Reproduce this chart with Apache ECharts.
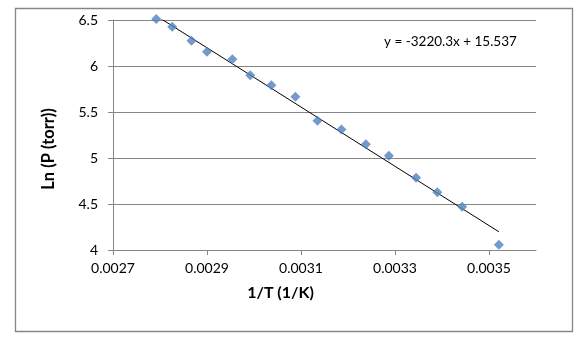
<!DOCTYPE html>
<html>
<head>
<meta charset="utf-8">
<script src="https://cdn.jsdelivr.net/npm/echarts@6/dist/echarts.min.js"></script>
<style>
html,body{margin:0;padding:0;background:#fff;}
#chart{width:583px;height:337px;}
</style>
</head>
<body>
<div id="chart"></div>
<script>
// Data
const invT = [0.002792, 0.002826, 0.002867, 0.0029, 0.002954, 0.002992, 0.003037, 0.003088, 0.003135, 0.003186, 0.003238, 0.003287, 0.003345, 0.00339, 0.003443, 0.003521];
const lnP = [6.51, 6.427, 6.275, 6.155, 6.073, 5.899, 5.79, 5.666, 5.405, 5.31, 5.149, 5.025, 4.786, 4.627, 4.471, 4.058];
const trendSlope = -3220.3;
const trendIntercept = 15.537;
const trendLabel = 'y = -3220.3x + 15.537';
const xTicks = [0.0027, 0.0029, 0.0031, 0.0033, 0.0035];
const yTicks = [4, 4.5, 5, 5.5, 6, 6.5];
const xTitle = '1/T (1/K)';
const yTitle = 'Ln (P (torr))';

const points = invT.map((x, i) => [x, lnP[i]]);
const xMin = Math.min(...invT), xMax = Math.max(...invT);
const trend = [[xMin, trendSlope * xMin + trendIntercept], [xMax, trendSlope * xMax + trendIntercept]];

const font = 'Lato, "Open Sans", sans-serif';
const chart = echarts.init(document.getElementById('chart'), null, {renderer: 'canvas'});
chart.setOption({
  animation: false,
  backgroundColor: '#ffffff',
  grid: {left: 113, right: 47, top: 20, bottom: 87, containLabel: false},
  xAxis: {
    type: 'value',
    min: 0.0027, max: 0.0036,
    name: xTitle,
    nameLocation: 'middle',
    nameGap: 35,
    nameTextStyle: {fontFamily: font, fontSize: 16, fontWeight: 'bold', color: '#000', padding: [0, 88, 0, 0]},
    axisLine: {show: true, lineStyle: {color: '#868686', width: 1}},
    axisTick: {show: true, length: 5, customValues: xTicks, lineStyle: {color: '#868686'}},
    axisLabel: {customValues: xTicks, formatter: v => v.toFixed(4), fontFamily: font, fontSize: 14, color: '#000', margin: 11},
    splitLine: {show: false}
  },
  yAxis: {
    type: 'value',
    min: 4, max: 6.5, interval: 0.5,
    name: yTitle,
    nameLocation: 'middle',
    nameGap: 56,
    nameRotate: 90,
    nameTextStyle: {fontFamily: font, fontSize: 16.5, fontWeight: 'bold', color: '#000', padding: [0, 28, 0, 0]},
    axisLine: {show: true, lineStyle: {color: '#868686', width: 1}},
    axisTick: {show: true, length: 5, lineStyle: {color: '#868686'}},
    axisLabel: {fontFamily: font, fontSize: 14, color: '#000', margin: 15, formatter: v => String(v)},
    splitLine: {show: true, lineStyle: {color: '#868686', width: 1}}
  },
  series: [
    {
      type: 'line',
      data: trend,
      symbol: 'none',
      clip: true,
      lineStyle: {color: '#000', width: 1},
      silent: true,
      z: 3
    },
    {
      type: 'scatter',
      data: points,
      symbol: 'diamond',
      symbolSize: [10, 10],
      clip: false,
      itemStyle: {color: '#4F81BD'},
      z: 4
    }
  ],
  graphic: [
    {type: 'rect', shape: {x: 15.5, y: 8.5, width: 557, height: 323}, style: {fill: 'none', stroke: '#868686', lineWidth: 1.3}, silent: true},
    {type: 'text', left: 384, top: 35, style: {text: trendLabel, font: '13.5px ' + font, fill: '#000'}}
  ]
});
</script>
</body>
</html>
